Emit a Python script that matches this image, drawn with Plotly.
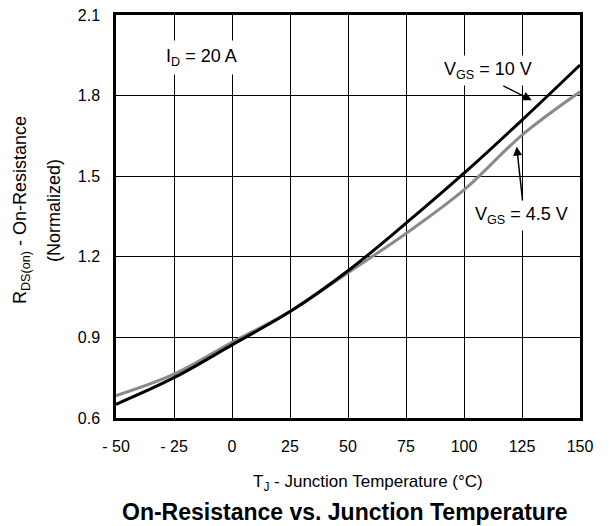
import plotly.graph_objects as go

temps = [-50, -25, 0, 25, 50, 75, 100, 125, 150]
r_vgs10 = [0.651, 0.750, 0.872, 0.996, 1.148, 1.325, 1.511, 1.709, 1.914]
r_vgs45 = [0.683, 0.763, 0.882, 0.996, 1.141, 1.287, 1.449, 1.653, 1.814]

x_tickvals = [-50, -25, 0, 25, 50, 75, 100, 125, 150]
x_ticktext = ["- 50", "- 25", "0", "25", "50", "75", "100", "125", "150"]
y_tickvals = [0.6, 0.9, 1.2, 1.5, 1.8, 2.1]
y_ticktext = ["0.6", "0.9", "1.2", "1.5", "1.8", "2.1"]

FONT = "Liberation Sans, Arial, Helvetica, sans-serif"

# page has an 8px body margin; figure sized so it fits the 610x526 window
W, H = 602, 518
OFF = 8
L, R, T, B = 116 - OFF, 30, 15 - OFF, 108
PW, PH = W - L - R, H - T - B


def sx(px):
    return (px - OFF - L) / PW


def sy(py):
    return (H - B - (py - OFF)) / PH


fig = go.Figure()
fig.add_trace(go.Scatter(x=temps, y=r_vgs45, mode="lines",
                         line=dict(color="#8a8a8a", width=3, shape="spline"),
                         name="VGS = 4.5 V", showlegend=False))
fig.add_trace(go.Scatter(x=temps, y=r_vgs10, mode="lines",
                         line=dict(color="#000000", width=3, shape="spline"),
                         name="VGS = 10 V", showlegend=False))

fig.update_layout(
    width=W, height=H,
    margin=dict(l=L, r=R, t=T, b=B, autoexpand=False),
    paper_bgcolor="white", plot_bgcolor="white",
    font=dict(family=FONT, size=16, color="black"),
    showlegend=False,
)
fig.update_xaxes(range=[-50, 150], tickvals=x_tickvals, ticktext=x_ticktext,
                 showgrid=True, gridcolor="black", gridwidth=1,
                 showline=True, linecolor="black", linewidth=2.5, mirror=True,
                 zeroline=False, ticks="", ticklabelstandoff=12, automargin=False,
                 ticklabeloverflow="allow", tickfont=dict(size=16))
fig.update_yaxes(range=[0.6, 2.1], tickvals=y_tickvals, ticktext=y_ticktext,
                 showgrid=True, gridcolor="black", gridwidth=1,
                 showline=True, linecolor="black", linewidth=2.5, mirror=True,
                 zeroline=False, ticks="", ticklabelstandoff=10, automargin=False,
                 ticklabeloverflow="allow", tickfont=dict(size=16))

ann = []
ann.append(dict(x=-13.1, y=1.94, xref="x", yref="y", text="I<sub>D</sub> = 20 A",
                showarrow=False, bgcolor="white", font=dict(size=18), borderpad=5))
ann.append(dict(x=110.3, y=1.895, xref="x", yref="y", text="V<sub>GS</sub> = 10 V",
                showarrow=False, bgcolor="white", font=dict(size=18), borderpad=3))
ann.append(dict(x=124.9, y=1.355, xref="x", yref="y", text="V<sub>GS</sub> = 4.5 V",
                showarrow=False, bgcolor="white", font=dict(size=18), borderpad=3))
ann.append(dict(x=129.2, y=1.783, ax=116.3, ay=1.839, xref="x", yref="y",
                axref="x", ayref="y", text="", showarrow=True,
                arrowhead=2, arrowsize=1.2, arrowwidth=1.5, arrowcolor="black"))
ann.append(dict(x=122.7, y=1.610, ax=125.3, ay=1.405, xref="x", yref="y",
                axref="x", ayref="y", text="", showarrow=True,
                arrowhead=2, arrowsize=1.2, arrowwidth=1.5, arrowcolor="black"))
ann.append(dict(x=sx(368), y=sy(483), xref="paper", yref="paper",
                text="T<sub>J</sub> - Junction Temperature (°C)", showarrow=False,
                xanchor="center", yanchor="middle", font=dict(size=17)))
ann.append(dict(x=sx(345), y=sy(512), xref="paper", yref="paper",
                text="<b>On-Resistance vs. Junction Temperature</b>", showarrow=False,
                xanchor="center", yanchor="middle", font=dict(size=23)))
ann.append(dict(x=sx(21), y=sy(210), xref="paper", yref="paper",
                text="R<sub>DS(on)</sub> - On-Resistance", showarrow=False,
                xanchor="center", yanchor="middle", textangle=-90, font=dict(size=18)))
ann.append(dict(x=sx(54), y=sy(211), xref="paper", yref="paper",
                text="(Normalized)", showarrow=False,
                xanchor="center", yanchor="middle", textangle=-90, font=dict(size=18)))

fig.update_layout(annotations=ann)
fig.write_html("out.html")
